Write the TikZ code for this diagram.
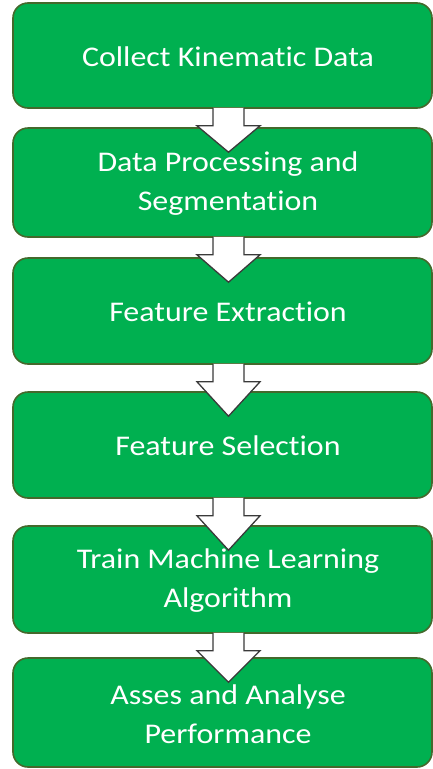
\documentclass[tikz,border=0pt]{standalone}
\usepackage{fontspec}
\setmainfont{Carlito}[FakeStretch=1.12, Ligatures=NoCommon]
\usetikzlibrary{calc}
\definecolor{stepgreen}{HTML}{00B050}
\definecolor{stepedge}{HTML}{44692C}
\definecolor{arrowedge}{HTML}{3A3A3A}
\tikzset{
  stepbox/.style={draw=stepedge, line width=1.6pt, fill=stepgreen,
    rounded corners=15pt, minimum width=419pt, inner sep=0pt},
  steptext/.style={text=white, align=center,
    font=\fontsize{28.5}{39}\selectfont},
  flowarrow/.style={fill=white, draw=arrowedge, line width=1.3pt, line join=miter},
}
\begin{document}
\begin{tikzpicture}[x=1pt, y=-1pt]
\useasboundingbox (0,0) rectangle (433,769);

% process steps (centre y, height)
\node[stepbox, minimum height=105pt] (b1) at (222.5,55.5) {};
\node[stepbox, minimum height=109pt] (b2) at (222.5,182.5) {};
\node[stepbox, minimum height=106pt] (b3) at (222.5,311) {};
\node[stepbox, minimum height=106pt] (b4) at (222.5,445) {};
\node[stepbox, minimum height=107pt] (b5) at (222.5,579.5) {};
\node[stepbox, minimum height=109pt] (b6) at (222.5,712.5) {};

% block arrows from each step to the next
\foreach \i/\j in {1/2,2/3,3/4,4/5,5/6}{
  \path[flowarrow] let \p1=(b\i.south), \p2=(b\j.north) in
    (\x1+6pt-15.5pt,\y1+1pt) -- (\x1+6pt-15.5pt,\y1-17pt)
    -- (\x1+6pt-31.5pt,\y1-17pt) -- (\x1+6pt,\y2-25pt)
    -- (\x1+6pt+31.5pt,\y1-17pt) -- (\x1+6pt+15.5pt,\y1-17pt)
    -- (\x1+6pt+15.5pt,\y1+1pt);
}

% step labels
\node[steptext] (t1) at (228,57) {Collect Kinematic Data};
\node[steptext] (t2) at (228,184) {Data Processing and\\Segmentation};
\node[steptext] (t3) at (228,312) {Feature Extraction};
\node[steptext] (t4) at (228,446) {Feature Selection};
\node[steptext] (t5) at (228,581) {Train Machine Learning\\Algorithm};
\node[steptext] (t6) at (228,714) {Asses and Analyse\\Performance};
\end{tikzpicture}
\end{document}
